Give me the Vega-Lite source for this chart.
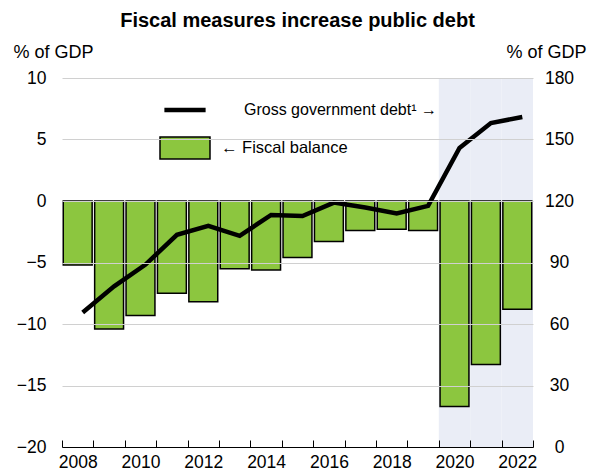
{
  "$schema": "https://vega.github.io/schema/vega-lite/v6.json",
  "width": 471,
  "height": 369,
  "autosize": {"type": "none"},
  "padding": {"left": 62, "top": 78, "right": 59, "bottom": 27},
  "title": {
    "text": "Fiscal measures increase public debt",
    "font": "Liberation Sans",
    "fontSize": 20,
    "fontWeight": "bold",
    "color": "#000000",
    "anchor": "middle",
    "offset": 12
  },
  "config": {
    "view": {"stroke": null},
    "font": "Liberation Sans",
    "axis": {"labelFont": "Liberation Sans", "titleFont": "Liberation Sans", "labelColor": "#000000", "titleColor": "#000000"},
    "legend": {"labelFont": "Liberation Sans", "labelColor": "#000000"}
  },
  "data": {
    "values": [
      {"year": "2008", "balance": -5.2, "debt": 65.6, "shade": "no"},
      {"year": "2009", "balance": -10.4, "debt": 78.4, "shade": "no"},
      {"year": "2010", "balance": -9.3, "debt": 89.0, "shade": "no"},
      {"year": "2011", "balance": -7.5, "debt": 103.5, "shade": "no"},
      {"year": "2012", "balance": -8.2, "debt": 107.9, "shade": "no"},
      {"year": "2013", "balance": -5.5, "debt": 103.0, "shade": "no"},
      {"year": "2014", "balance": -5.6, "debt": 113.2, "shade": "no"},
      {"year": "2015", "balance": -4.6, "debt": 112.7, "shade": "no"},
      {"year": "2016", "balance": -3.3, "debt": 119.2, "shade": "no"},
      {"year": "2017", "balance": -2.4, "debt": 116.8, "shade": "no"},
      {"year": "2018", "balance": -2.3, "debt": 113.9, "shade": "no"},
      {"year": "2019", "balance": -2.4, "debt": 117.6, "shade": "no"},
      {"year": "2020", "balance": -16.7, "debt": 145.9, "shade": "yes"},
      {"year": "2021", "balance": -13.3, "debt": 158.0, "shade": "yes"},
      {"year": "2022", "balance": -8.8, "debt": 161.0, "shade": "yes"}
    ]
  },
  "encoding": {
    "x": {
      "field": "year",
      "type": "ordinal",
      "scale": {"paddingInner": 0, "paddingOuter": 0},
      "axis": {
        "title": null,
        "labelAngle": 0,
        "labelFontSize": 17.5,
        "labelExpr": "toNumber(datum.value) % 2 == 0 ? datum.label : ''",
        "tickBand": "extent",
        "tickSize": -7,
        "tickColor": "#000000",
        "tickWidth": 1,
        "domainColor": "#000000",
        "domainWidth": 1,
        "labelPadding": 13,
        "grid": false,
        "zindex": 2
      }
    }
  },
  "layer": [
    {
      "layer": [
        {
          "transform": [{"filter": "datum.shade == 'yes'"}],
          "mark": {"type": "bar", "width": {"band": 1}, "color": "#eaedf6"},
          "encoding": {
            "y": {"datum": -20, "type": "quantitative"},
            "y2": {"datum": 10}
          }
        },
        {
          "mark": {"type": "bar", "width": {"band": 0.92}, "stroke": "#000000", "strokeWidth": 1.5},
          "encoding": {
            "y": {
              "field": "balance",
              "type": "quantitative",
              "scale": {"domain": [-20, 10], "nice": false, "zero": false},
              "axis": {
                "title": "% of GDP",
                "titleAngle": 0,
                "titleFontSize": 18,
                "titleFontWeight": "normal",
                "titleAlign": "left",
                "titleBaseline": "alphabetic",
                "titleX": -49,
                "titleY": -21,
                "values": [-20, -15, -10, -5, 0, 5, 10],
                "labelFontSize": 17.5,
                "labelPadding": 16,
                "ticks": false,
                "domain": false,
                "grid": true,
                "gridColor": "#d0d0d0",
                "gridWidth": 1,
                "zindex": 1
              }
            },
            "y2": {"datum": 0},
            "fill": {
              "datum": "← Fiscal balance",
              "scale": {"range": ["#8cc63f"]},
              "legend": {
                "title": null,
                "orient": "none",
                "legendX": 97,
                "legendY": 44,
                "symbolType": "M-1,-0.44H1V0.44H-1Z",
                "symbolSize": 2500,
                "symbolStrokeColor": "#000000",
                "symbolStrokeWidth": 1.5,
                "labelFontSize": 16.5,
                "labelLimit": 400,
                "labelOffset": 10
              }
            }
          }
        }
      ]
    },
    {
      "mark": {"type": "line", "strokeWidth": 4.5, "xOffset": 5},
      "encoding": {
        "y": {
          "field": "debt",
          "type": "quantitative",
          "scale": {"domain": [0, 180], "nice": false},
          "axis": {
            "orient": "right",
            "title": "% of GDP",
            "titleAngle": 0,
            "titleFontSize": 18,
            "titleFontWeight": "normal",
            "titleAlign": "right",
            "titleBaseline": "alphabetic",
            "titleX": 53,
            "titleY": -21,
            "values": [0, 30, 60, 90, 120, 150, 180],
            "labelFontSize": 17.5,
            "labelAlign": "center",
            "labelPadding": 26,
            "ticks": false,
            "domain": false,
            "grid": false
          }
        },
        "stroke": {
          "datum": "Gross government debt¹ →",
          "scale": {"range": ["#000000"]},
          "legend": {
            "title": null,
            "orient": "none",
            "legendX": 100,
            "legendY": 9,
            "symbolType": "stroke",
            "symbolSize": 1700,
            "symbolStrokeWidth": 4.5,
            "labelFontSize": 16,
            "labelLimit": 400,
            "labelOffset": 36
          }
        }
      }
    }
  ],
  "resolve": {"scale": {"y": "independent"}}
}
